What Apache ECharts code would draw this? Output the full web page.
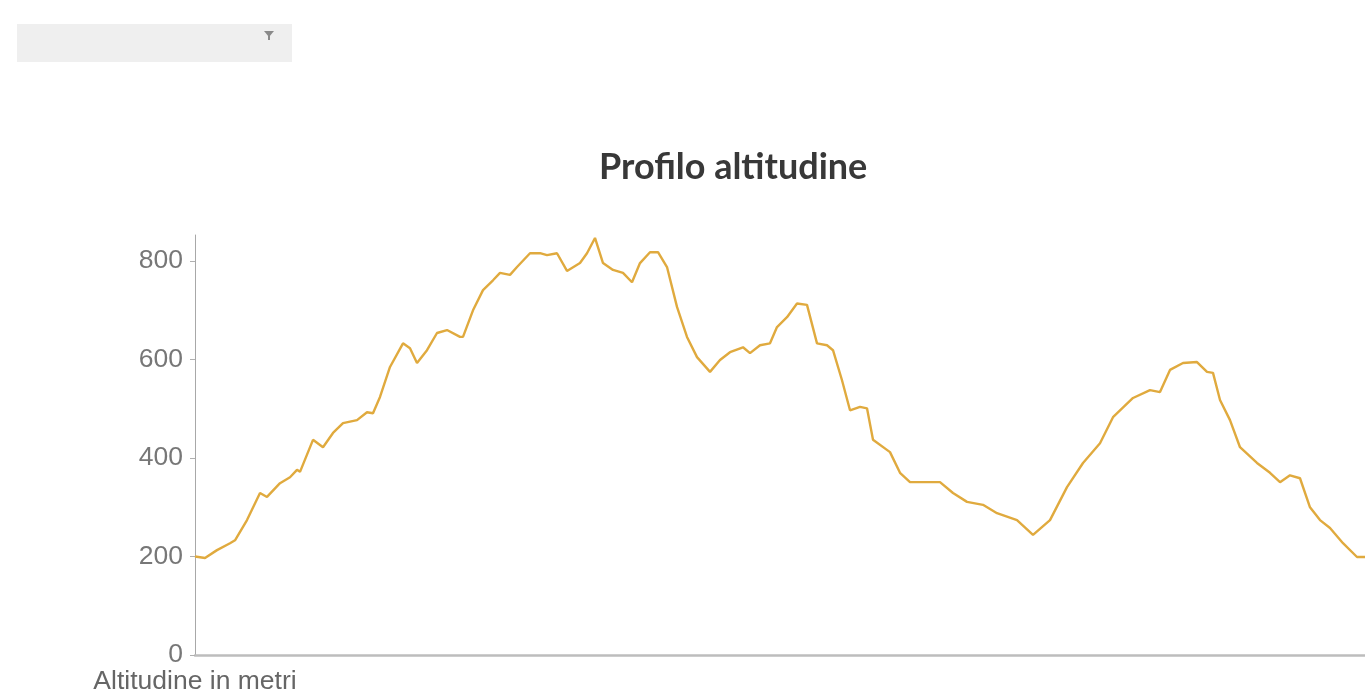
<!DOCTYPE html>
<html>
<head>
<meta charset="utf-8">
<script src="https://cdn.jsdelivr.net/npm/echarts@6/dist/echarts.min.js"></script>
<style>
html,body{margin:0;padding:0;background:#fff;}
#chart{width:1365px;height:697px;}
</style>
</head>
<body>
<div id="chart"></div>
<script>
// Distance along the route (km, estimated) and altitude (m)
const distanceKm = [0,0.2,0.44,0.7,0.8,1.04,1.3,1.44,1.7,1.9,2.04,2.1,2.36,2.56,2.76,2.96,3.24,3.44,3.56,3.7,3.9,4.16,4.3,4.44,4.64,4.84,5.04,5.3,5.36,5.56,5.76,5.96,6.1,6.3,6.44,6.7,6.9,7.04,7.24,7.44,7.7,7.84,8.0,8.16,8.36,8.56,8.74,8.9,9.1,9.26,9.44,9.64,9.84,10.04,10.3,10.5,10.7,10.96,11.1,11.3,11.5,11.64,11.84,12.04,12.24,12.44,12.64,12.76,12.94,13.1,13.3,13.44,13.56,13.9,14.1,14.3,14.64,14.9,15.16,15.44,15.76,16.04,16.44,16.76,17.1,17.44,17.76,18.1,18.36,18.76,19.1,19.3,19.5,19.76,20.04,20.24,20.36,20.5,20.7,20.9,21.24,21.5,21.7,21.9,22.1,22.3,22.5,22.7,22.96,23.24,23.4];
const altitudeM = [200,197,213,227,233,274,329,321,349,361,376,372,437,422,451,471,477,493,491,524,585,633,623,593,619,654,660,646,646,700,741,761,776,772,788,816,816,812,816,780,796,816,847,796,782,776,757,796,818,818,788,707,646,605,575,599,615,625,613,629,633,666,686,714,711,633,629,619,558,497,504,501,437,412,370,351,351,351,329,311,305,288,274,244,274,341,390,430,483,522,538,534,579,593,595,575,573,518,477,422,390,370,351,365,359,300,274,258,227,199,199];
const yTicks = [0,200,400,600,800];
const titleText = 'Profilo altitudine';
const yAxisName = 'Altitudine in metri';

const seriesData = distanceKm.map((d, i) => [d, altitudeM[i]]);

const chart = echarts.init(document.getElementById('chart'), null, {renderer: 'canvas'});
chart.setOption({
  animation: false,
  backgroundColor: '#ffffff',
  title: {
    text: titleText,
    left: 594,
    top: 144,
    textStyle: {fontFamily: 'Lato', fontWeight: 'bold', fontSize: 36, color: '#383838'}
  },
  graphic: [
    {type: 'rect', left: 17, top: 24, shape: {width: 275, height: 38}, style: {fill: '#efefef'}, silent: true},
    {type: 'polygon', shape: {points: [[264, 31], [274, 31], [269, 37]]}, style: {fill: '#8a8a8a'}, silent: true},
    {type: 'rect', shape: {x: 268, y: 35, width: 2, height: 5}, style: {fill: '#8a8a8a'}, silent: true}
  ],
  grid: {left: 195, right: 0, top: 235, bottom: 42, containLabel: false},
  xAxis: {
    type: 'value',
    min: 0,
    max: 23.4,
    axisLine: {show: true, lineStyle: {color: '#bdbdbd', width: 2.5}},
    axisTick: {show: false},
    axisLabel: {show: false},
    splitLine: {show: false}
  },
  yAxis: {
    type: 'value',
    min: 0,
    max: 853,
    name: yAxisName,
    nameLocation: 'start',
    nameGap: 7,
    nameTextStyle: {fontFamily: 'Liberation Sans', fontSize: 26.5, color: '#666666'},
    axisLine: {show: true, lineStyle: {color: '#a8a8a8', width: 1}},
    axisTick: {show: true, length: 5, customValues: yTicks, lineStyle: {color: '#b0b0b0'}},
    axisLabel: {customValues: yTicks, margin: 12, fontFamily: 'Liberation Sans', fontSize: 26.5, color: '#777777'},
    splitLine: {show: false}
  },
  series: [{
    type: 'line',
    data: seriesData,
    showSymbol: false,
    symbol: 'none',
    smooth: false,
    lineStyle: {color: '#e0aa3e', width: 2.4}
  }]
});
</script>
</body>
</html>
